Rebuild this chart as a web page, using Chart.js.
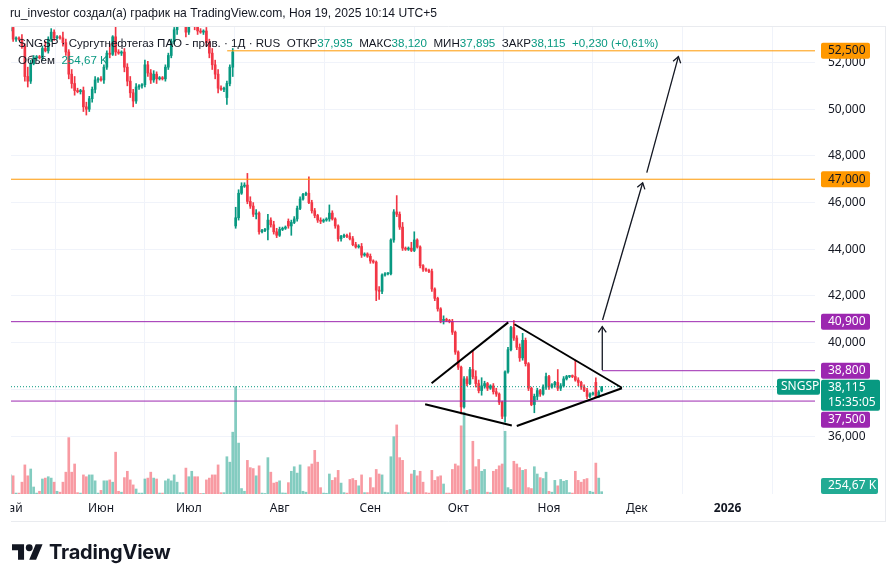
<!DOCTYPE html>
<html>
<head>
<meta charset="utf-8">
<script src="https://cdn.jsdelivr.net/npm/chart.js@4.4.1/dist/chart.umd.min.js"></script>
<style>
  html, body { margin: 0; padding: 0; background: #fff; }
  #wrap { position: relative; width: 896px; height: 582px; overflow: hidden; font-family: 'Liberation Sans', sans-serif; color: #131722; }
  #chart { position: absolute; left: 0; top: 0; }
  #head { position: absolute; left: 10px; top: 6px; font-size: 12.1px; white-space: nowrap; }
  #legend { position: absolute; left: 18px; top: 34px; font-size: 11.6px; line-height: 17px; white-space: nowrap; }
  #legend .v { color: #089981; }
  #logo { position: absolute; left: 12px; top: 540px; height: 24px; display: flex; align-items: center; }
  #logo span { font-family: Inter, sans-serif; font-weight: 700; font-size: 20px; margin-left: 6px; letter-spacing: -0.2px; }
</style>
</head>
<body>
<div id="wrap">
  <canvas id="chart" width="896" height="582"></canvas>
  <div id="head">ru_investor создал(а) график на TradingView.com, Ноя 19, 2025 10:14 UTC+5</div>
  <div id="legend"></div>
  <div id="logo">
    <svg width="31" height="16" viewBox="0 4 36 18"><path d="M14 22H7V11H0V4h14v18zM28 22h-8l7.5-18h8L28 22z" fill="#131722"/><circle cx="20" cy="8" r="4" fill="#131722"/></svg>
    <span>TradingView</span>
  </div>
</div>
<script>
// daily bars from 1 May 2025 (index 0) to 19 Nov 2025 (index 202), weekend sessions included
const opens = [
  53.35, 53.50, 53.00, 53.05, 53.00, 52.70, 51.40, 51.20, 51.95, 52.20,
  52.25, 52.20, 52.60, 52.50, 53.00, 53.30, 53.05, 53.10, 53.05, 52.85,
  52.45, 51.50, 51.10, 50.80, 50.75, 50.80, 50.10, 50.00, 50.45, 50.85,
  51.25, 51.30, 51.25, 51.80, 52.40, 52.35, 53.10, 52.45, 52.40, 52.45,
  51.80, 51.20, 50.70, 50.35, 50.95, 51.00, 51.05, 51.90, 51.55, 51.25,
  51.50, 51.30, 51.35, 51.30, 51.80, 52.30, 52.90, 53.40, 53.70, 53.75,
  53.80, 53.30, 54.00, 54.40, 53.60, 53.35, 53.30, 53.35, 52.85, 52.40,
  51.90, 51.50, 50.90, 50.85, 50.50, 51.10, 51.80, 45.00, 45.35, 46.40,
  46.70, 46.75, 46.05, 45.85, 45.50, 45.55, 44.75, 44.80, 44.85, 45.25,
  45.05, 44.75, 44.60, 44.85, 44.90, 45.20, 45.00, 45.15, 45.30, 45.75,
  46.15, 46.35, 46.40, 46.00, 45.65, 45.45, 45.25, 45.20, 45.25, 45.30,
  45.55, 45.30, 45.00, 44.45, 44.55, 44.60, 44.55, 44.45, 44.20, 44.10,
  44.12, 43.75, 43.80, 43.70, 43.50, 43.45, 42.25, 42.20, 42.90, 42.95,
  42.95, 44.40, 45.60, 45.50, 44.95, 44.05, 44.00, 44.05, 43.95, 44.40,
  44.10, 43.30, 43.15, 43.10, 43.05, 42.30, 41.90, 41.45, 40.95, 41.00,
  40.95, 40.90, 40.45, 39.60, 38.95, 37.25, 38.45, 38.25, 38.85, 38.55,
  38.25, 37.95, 38.15, 38.25, 38.05, 38.15, 37.90, 37.80, 37.45, 36.85,
  38.75, 39.70, 40.65, 40.20, 39.80, 39.35, 40.10, 39.10, 38.05, 37.35,
  37.70, 37.95, 37.80, 38.10, 38.55, 38.10, 38.20, 38.30, 38.05, 38.15,
  38.45, 38.55, 38.58, 38.55, 38.40, 38.30, 38.10, 37.95, 37.70, 37.80,
  38.30, 37.70, 37.935
];
const highs = [
  53.60, 53.55, 53.10, 53.10, 53.20, 52.80, 51.80, 52.10, 52.30, 52.30,
  52.30, 52.70, 52.90, 53.10, 53.45, 53.40, 53.15, 53.15, 53.30, 53.00,
  52.55, 51.70, 51.40, 50.90, 50.85, 50.95, 50.30, 50.55, 50.95, 51.40,
  51.35, 51.40, 51.90, 52.50, 52.80, 53.15, 53.55, 52.55, 52.50, 52.60,
  51.95, 51.40, 50.85, 51.10, 51.05, 51.10, 52.10, 52.05, 51.70, 51.65,
  51.60, 51.40, 51.40, 51.90, 52.40, 53.00, 53.50, 53.80, 53.80, 53.85,
  54.00, 54.20, 54.60, 54.50, 53.75, 53.45, 53.40, 53.50, 53.00, 52.60,
  52.10, 51.70, 51.00, 50.95, 51.20, 51.90, 52.60, 45.80, 46.55, 46.85,
  46.85, 47.25, 46.25, 46.00, 45.70, 45.60, 44.85, 44.90, 45.50, 45.35,
  45.20, 44.90, 44.95, 44.95, 45.00, 45.30, 45.25, 45.40, 45.85, 46.25,
  46.40, 46.45, 47.10, 46.10, 45.75, 45.50, 45.35, 45.30, 45.35, 45.90,
  45.65, 45.35, 45.05, 44.60, 44.65, 44.65, 44.70, 44.55, 44.30, 44.20,
  44.25, 43.85, 43.85, 43.80, 43.55, 43.50, 42.40, 42.95, 43.00, 43.00,
  44.45, 45.70, 46.30, 45.60, 45.15, 44.10, 44.10, 44.30, 44.75, 44.45,
  44.15, 43.35, 43.20, 43.15, 43.15, 42.35, 41.95, 41.50, 41.15, 41.05,
  41.00, 41.00, 40.50, 39.65, 39.00, 38.55, 38.55, 38.95, 39.65, 38.80,
  38.40, 38.50, 38.35, 38.30, 38.20, 38.25, 38.05, 37.85, 37.50, 38.80,
  39.80, 40.70, 40.95, 40.30, 39.95, 40.40, 40.20, 39.15, 38.10, 37.80,
  38.05, 38.00, 38.20, 38.70, 38.60, 38.25, 38.35, 38.85, 38.25, 38.55,
  38.60, 38.60, 38.62, 39.25, 38.50, 38.35, 38.20, 38.05, 37.85, 37.88,
  38.50, 37.95, 38.12
];
const lows = [
  53.10, 52.90, 52.90, 52.95, 52.60, 51.20, 50.95, 51.10, 51.90, 52.10,
  52.15, 52.10, 52.45, 52.40, 52.90, 52.95, 53.00, 53.00, 52.70, 52.30,
  51.30, 50.90, 50.60, 50.70, 50.65, 49.90, 49.75, 49.90, 50.30, 50.70,
  51.15, 51.20, 51.10, 51.70, 52.20, 52.30, 52.30, 52.35, 52.30, 51.60,
  51.00, 50.50, 50.10, 50.25, 50.85, 50.90, 50.95, 51.40, 51.10, 51.15,
  51.10, 51.25, 51.25, 51.20, 51.70, 52.20, 52.80, 53.20, 53.60, 53.65,
  53.10, 53.20, 53.90, 53.40, 53.20, 53.25, 53.20, 52.70, 52.20, 51.70,
  51.30, 50.70, 50.80, 50.75, 50.20, 51.00, 51.40, 44.90, 45.25, 46.35,
  46.65, 45.95, 45.75, 45.40, 45.30, 44.65, 44.70, 44.75, 44.40, 44.95,
  44.65, 44.50, 44.55, 44.80, 44.85, 44.90, 44.60, 45.10, 45.20, 45.70,
  46.10, 46.30, 45.95, 45.55, 45.35, 45.15, 45.10, 45.15, 45.20, 45.20,
  45.25, 44.90, 44.35, 44.35, 44.50, 44.50, 44.40, 44.15, 44.05, 44.05,
  43.65, 43.70, 43.65, 43.40, 43.40, 41.80, 41.85, 42.10, 42.85, 42.90,
  42.90, 44.30, 45.40, 44.85, 43.95, 43.95, 43.95, 43.90, 43.90, 44.05,
  43.20, 43.05, 43.05, 43.00, 42.20, 41.80, 41.35, 40.85, 40.80, 40.90,
  40.85, 40.35, 39.50, 38.85, 36.95, 37.20, 38.15, 38.20, 38.45, 38.10,
  37.85, 37.75, 38.05, 37.95, 38.00, 37.80, 37.70, 37.35, 36.75, 36.60,
  38.70, 39.65, 40.10, 39.70, 39.20, 39.25, 39.00, 37.95, 37.30, 37.00,
  37.55, 37.70, 37.75, 38.00, 38.00, 38.05, 38.10, 37.95, 37.95, 38.10,
  38.40, 38.50, 38.50, 38.35, 38.15, 38.00, 37.90, 37.60, 37.65, 37.75,
  37.65, 37.65, 37.895
];
const closes = [
  53.50, 53.00, 53.05, 53.00, 52.70, 51.40, 51.20, 51.95, 52.20, 52.25,
  52.20, 52.60, 52.50, 53.00, 53.30, 53.05, 53.10, 53.05, 52.85, 52.45,
  51.50, 51.10, 50.80, 50.75, 50.80, 50.10, 50.00, 50.45, 50.85, 51.25,
  51.30, 51.25, 51.80, 52.40, 52.35, 53.10, 52.45, 52.40, 52.45, 51.80,
  51.20, 50.70, 50.35, 50.95, 51.00, 51.05, 51.90, 51.55, 51.25, 51.50,
  51.30, 51.35, 51.30, 51.80, 52.30, 52.90, 53.40, 53.70, 53.75, 53.80,
  53.30, 54.00, 54.40, 53.60, 53.35, 53.30, 53.35, 52.85, 52.40, 51.90,
  51.50, 50.90, 50.85, 50.90, 51.10, 51.80, 52.45, 45.35, 46.40, 46.70,
  46.75, 46.05, 45.85, 45.50, 45.55, 44.75, 44.80, 44.85, 45.25, 45.05,
  44.75, 44.60, 44.85, 44.90, 44.95, 45.00, 45.15, 45.30, 45.75, 46.15,
  46.35, 46.40, 46.00, 45.65, 45.45, 45.25, 45.20, 45.25, 45.30, 45.55,
  45.30, 45.00, 44.45, 44.55, 44.60, 44.55, 44.45, 44.20, 44.10, 44.12,
  43.75, 43.80, 43.70, 43.50, 43.45, 42.25, 42.20, 42.90, 42.95, 42.95,
  44.40, 45.60, 45.50, 44.95, 44.05, 44.00, 44.05, 43.95, 44.40, 44.10,
  43.30, 43.15, 43.10, 43.05, 42.30, 41.90, 41.45, 40.95, 41.00, 40.95,
  40.90, 40.45, 39.60, 38.95, 37.25, 38.45, 38.25, 38.85, 38.55, 38.25,
  37.95, 38.15, 38.25, 38.05, 38.15, 37.90, 37.80, 37.45, 36.85, 38.75,
  39.70, 40.65, 40.20, 39.80, 39.35, 40.10, 39.10, 38.05, 37.35, 37.70,
  37.95, 37.80, 38.10, 38.55, 38.10, 38.20, 38.30, 38.05, 38.15, 38.45,
  38.55, 38.58, 38.55, 38.40, 38.30, 38.10, 37.95, 37.70, 37.80, 37.82,
  37.70, 37.885, 38.115
];
// volume, thousands of shares
const volumes = [
  2100, 2000, 100, 100, 1300, 3200, 2000, 2750, 770, 100,
  300, 1650, 1750, 1900, 1750, 1300, 300, 200, 1300, 2400,
  6200, 2400, 3300, 150, 100, 2100, 1900, 2100, 2100, 1450,
  100, 400, 1450, 1450, 1550, 1300, 4600, 300, 200, 1800,
  2500, 1550, 1000, 550, 100, 100, 1650, 1750, 2400, 1750,
  1650, 100, 100, 1450, 1650, 1450, 2100, 1300, 150, 150,
  2850, 1900, 2500, 1900, 1900, 60, 60, 1550, 1750, 2100,
  2100, 3200, 150, 150, 4100, 3500, 6800, 11800, 5600, 600,
  300, 3700, 2900, 2800, 2000, 3100, 100, 60, 4000, 2400,
  1200, 1300, 1450, 120, 100, 1250, 2500, 3000, 2300, 3200,
  300, 200, 3000, 3300, 4800, 3500, 700, 100, 80, 2200,
  1500, 1800, 2600, 1200, 150, 100, 1600, 1700, 1500, 900,
  2100, 150, 150, 1800, 700, 2700, 2200, 2100, 200, 150,
  4100, 6300, 7600, 4000, 3700, 200, 150, 2200, 2600, 2000,
  2500, 1300, 150, 100, 2600, 1500, 1900, 2000, 1100, 100,
  100, 2700, 3300, 3100, 7500, 9000, 400, 500, 5800, 3000,
  3800, 2500, 2700, 200, 150, 2500, 2700, 3100, 3300, 6900,
  700, 500, 3600, 3300, 2900, 2600, 2700, 700, 600, 3000,
  2200, 1800, 1700, 2400, 300, 200, 1500, 900, 1600, 1400,
  1500, 150, 100, 2500, 1500, 1300, 1600, 1700, 300, 200,
  3400, 1750, 254.67
];

// time axis: bar index of each month start and its label
const monthStarts = [0, 31, 61, 92, 123, 153, 184, 214, 245];
const monthNames = ['Май', 'Июн', 'Июл', 'Авг', 'Сен', 'Окт', 'Ноя', 'Дек', '2026'];
const priceTicks = [36, 38, 40, 42, 44, 46, 48, 50, 52];

// horizontal levels drawn by the author (start bar index, null = whole width)
const levelPrices = [52.5, 47.0, 40.9, 38.8, 37.5];
const levelStarts = [74.1, null, null, 202.1, null];
const levelKinds = ['orange', 'orange', 'purple', 'purple', 'purple'];

// diamond pattern and arrows: [bar1, price1, bar2, price2]
const diamondLines = [
  [143.9, 38.26, 170.1, 40.87],
  [172.2, 40.79, 208.9, 38.07],
  [141.7, 37.36, 171.3, 36.45],
  [173.0, 36.43, 208.9, 38.05]
];
const arrowLines = [
  [202.2, 38.83, 202.2, 40.69],
  [202.3, 40.97, 216.0, 46.85],
  [217.4, 47.28, 228.2, 52.25]
];

const countdown = '15:35:05';

const GREEN = '#089981';
const RED = '#f23645';
const COLORS = { orange: '#ff9800', purple: '#9c27b0' };
const X_MIN = 0.27, X_MAX = 274.85;
const FONT = "'Noto Sans', sans-serif";

const fmt = v => v.toFixed(3).replace('.', ',');
const isUp = j => closes[j] >= opens[j];

// legend text
const last = closes.length - 1;
const chg = closes[last] - closes[last - 1];
const pct = chg / closes[last - 1] * 100;
const sign = chg >= 0 ? '+' : '';
document.getElementById('legend').innerHTML =
  '<div>SNGSP · Сургутнефтегаз ПАО - прив. · 1Д · RUS&nbsp; ОТКР<span class="v">' + fmt(opens[last]) +
  '</span>&nbsp; МАКС<span class="v">' + fmt(highs[last]) +
  '</span>&nbsp; МИН<span class="v">' + fmt(lows[last]) +
  '</span>&nbsp; ЗАКР<span class="v">' + fmt(closes[last]) +
  '</span>&nbsp; <span class="v">' + sign + fmt(chg) + ' (' + sign + pct.toFixed(2).replace('.', ',') + '%)</span></div>' +
  '<div>Объём&nbsp; <span class="v">' + volumes[last].toFixed(2).replace('.', ',') + ' K</span></div>';

const bodyData = opens.map((o, j) => ({ x: j, y: [o, closes[j]] }));
const wickData = highs.map((h, j) => ({ x: j, y: [lows[j], h] }));
const volData = volumes.map((v, j) => ({ x: j, y: v }));
const candleColors = closes.map((c, j) => isUp(j) ? GREEN : RED);
const volColors = closes.map((c, j) => isUp(j) ? 'rgba(8,153,129,0.5)' : 'rgba(242,54,69,0.5)');

const segment = (s, color, width, order) => ({
  type: 'line', yAxisID: 'y', order: order,
  data: [{ x: s[0], y: s[1] }, { x: s[2], y: s[3] }],
  borderColor: color, borderWidth: width, pointRadius: 0, tension: 0
});

const datasets = [
  { type: 'bar', data: bodyData, yAxisID: 'y', backgroundColor: candleColors, barThickness: 2, minBarLength: 1, grouped: false, order: 3 },
  { type: 'bar', data: wickData, yAxisID: 'y', backgroundColor: candleColors, barThickness: 1, grouped: false, order: 4 },
  { type: 'bar', data: volData, yAxisID: 'yv', backgroundColor: volColors, barThickness: 2, grouped: false, order: 5 }
];
levelPrices.forEach((p, k) => {
  const ds = segment([levelStarts[k] === null ? X_MIN : levelStarts[k], p, X_MAX, p], COLORS[levelKinds[k]], 1, 2);
  datasets.push(ds);
});
const priceLine = segment([X_MIN, closes[last], X_MAX, closes[last]], GREEN, 1, 2);
priceLine.borderDash = [1, 2];
datasets.push(priceLine);
diamondLines.forEach(s => datasets.push(segment(s, '#000', 2, 1)));
arrowLines.forEach(s => datasets.push(segment(s, '#131722', 1.3, 1)));

function tag(ctx, x, yc, w, h, bg, fg, lines, pad) {
  ctx.fillStyle = bg;
  ctx.beginPath();
  ctx.roundRect(x, yc - h / 2, w, h, 2);
  ctx.fill();
  ctx.fillStyle = fg;
  ctx.font = '12px ' + FONT;
  ctx.textBaseline = 'middle';
  ctx.textAlign = 'left';
  const lh = 15;
  lines.forEach((t, k) => ctx.fillText(t, x + pad, yc - h / 2 + lh / 2 + 0.5 + k * lh));
}

const overlay = {
  id: 'overlay',
  afterDatasetsDraw(chart) {
    const { ctx, scales: { x, y } } = chart;
    ctx.save();
    ctx.strokeStyle = '#131722';
    ctx.lineWidth = 1.3;
    arrowLines.forEach(s => {
      const x1 = x.getPixelForValue(s[0]), y1 = y.getPixelForValue(s[1]);
      const x2 = x.getPixelForValue(s[2]), y2 = y.getPixelForValue(s[3]);
      const a = Math.atan2(y2 - y1, x2 - x1);
      ctx.beginPath();
      ctx.moveTo(x2 - 7 * Math.cos(a - 0.6), y2 - 7 * Math.sin(a - 0.6));
      ctx.lineTo(x2, y2);
      ctx.lineTo(x2 - 7 * Math.cos(a + 0.6), y2 - 7 * Math.sin(a + 0.6));
      ctx.stroke();
    });
    ctx.restore();
  },
  afterDraw(chart) {
    const { ctx, chartArea: area, scales: { x, y, yv } } = chart;
    ctx.save();
    // pane borders
    ctx.strokeStyle = '#e9ebef';
    ctx.lineWidth = 1;
    ctx.beginPath();
    ctx.moveTo(area.left, area.top - 0.5); ctx.lineTo(886, area.top - 0.5);
    ctx.moveTo(885.5, area.top); ctx.lineTo(885.5, 522);
    ctx.moveTo(area.left, 521.5); ctx.lineTo(886, 521.5);
    ctx.stroke();
    // first month label is cut by the pane edge
    ctx.fillStyle = '#fff';
    ctx.fillRect(0, area.bottom + 1, area.left - 0.5, 27);

    // price scale tags, pushed apart where they overlap
    const ax = area.right + 6;
    const tags = levelPrices.map((p, k) => ({
      yc: y.getPixelForValue(p), h: 16, w: 49, bg: COLORS[levelKinds[k]],
      fg: levelKinds[k] === 'orange' ? '#131722' : '#fff', lines: [fmt(p)]
    }));
    const pricePix = y.getPixelForValue(closes[last]);
    tags.push({ yc: pricePix + 7.5, h: 31, w: 59, bg: GREEN, fg: '#fff', lines: [fmt(closes[last]), countdown] });
    tags.sort((a, b) => a.yc - b.yc);
    let prevBottom = -Infinity;
    tags.forEach(t => {
      if (t.yc - t.h / 2 < prevBottom + 1) t.yc = prevBottom + 1 + t.h / 2;
      prevBottom = t.yc + t.h / 2;
    });
    tags.forEach(t => tag(ctx, ax, t.yc, t.w, t.h, t.bg, t.fg, t.lines, 7));
    // symbol name box left of the scale
    tag(ctx, area.right - 38, pricePix, 43, 16, GREEN, '#fff', ['SNGSP'], 4);
    // last volume tag, kept inside the pane
    const vy = Math.min(yv.getPixelForValue(volumes[last]), area.bottom - 8);
    tag(ctx, ax, vy, 57, 16, '#22ab94', '#fff', [volumes[last].toFixed(2).replace('.', ',') + ' K'], 7);
    ctx.restore();
  }
};

new Chart(document.getElementById('chart'), {
  type: 'bar',
  data: { datasets: datasets },
  options: {
    responsive: false,
    animation: false,
    events: [],
    layout: { padding: { left: 11, top: 27, right: 10, bottom: 60 } },
    plugins: { legend: { display: false }, tooltip: { enabled: false } },
    scales: {
      x: {
        type: 'linear', min: X_MIN, max: X_MAX, offset: false,
        grid: { color: '#f0f3fa', drawTicks: false },
        border: { display: false },
        afterBuildTicks: s => { s.ticks = monthStarts.map(v => ({ value: v })); },
        afterFit: s => { s.height = 28; s.paddingLeft = 0; s.paddingRight = 0; },
        ticks: {
          autoSkip: false, maxRotation: 0, padding: 7, color: '#131722',
          font: c => ({ family: FONT, size: 12, weight: c.tick && c.tick.value === 245 ? 'bold' : 'normal' }),
          callback: v => monthNames[monthStarts.indexOf(v)]
        }
      },
      y: {
        type: 'linear', position: 'right', min: 33.52, max: 53.52,
        grid: { color: '#f0f3fa', drawTicks: false },
        border: { display: false },
        afterBuildTicks: s => { s.ticks = priceTicks.map(v => ({ value: v })); },
        afterFit: s => { s.width = 71; s.paddingTop = 0; s.paddingBottom = 0; },
        ticks: { padding: 13, color: '#131722', font: { family: FONT, size: 12 }, callback: v => fmt(v) }
      },
      yv: { type: 'linear', display: false, min: 0, max: 51370 }
    }
  },
  plugins: [overlay]
});
</script>
</body>
</html>
